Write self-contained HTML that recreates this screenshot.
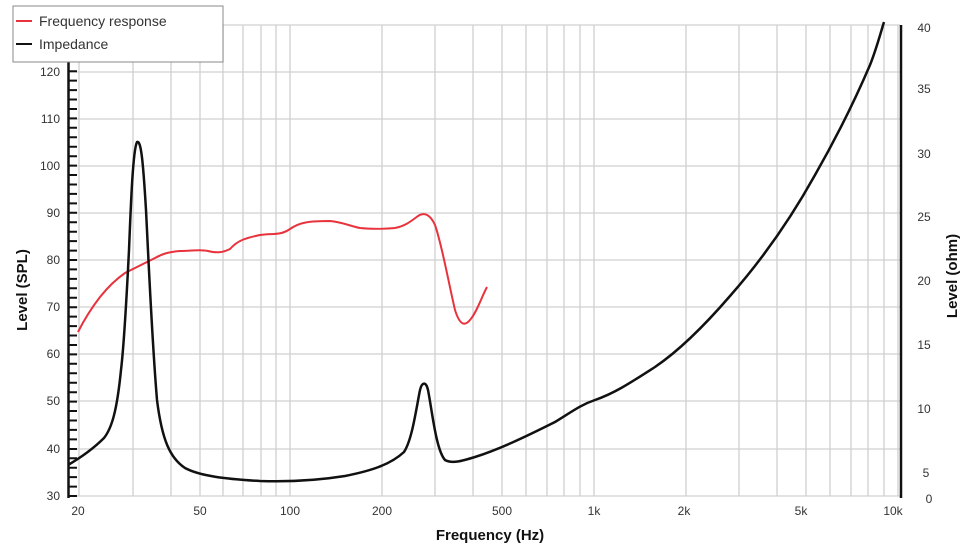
<!DOCTYPE html>
<html><head><meta charset="utf-8"><style>body{margin:0;background:#fff}svg{display:block;font-family:"Liberation Sans",sans-serif}</style></head><body>
<svg width="972" height="555" viewBox="0 0 972 555" xmlns="http://www.w3.org/2000/svg">
<g stroke="#d0d0d0" stroke-width="1.3" fill="none">
<line x1="70" y1="25" x2="900" y2="25"/><line x1="70" y1="72" x2="900" y2="72"/><line x1="70" y1="119" x2="900" y2="119"/><line x1="70" y1="166" x2="900" y2="166"/><line x1="70" y1="213" x2="900" y2="213"/><line x1="70" y1="260" x2="900" y2="260"/><line x1="70" y1="307" x2="900" y2="307"/><line x1="70" y1="354" x2="900" y2="354"/><line x1="70" y1="401" x2="900" y2="401"/><line x1="70" y1="449" x2="900" y2="449"/><line x1="70" y1="496" x2="900" y2="496"/>
<line x1="79" y1="25" x2="79" y2="496"/><line x1="133" y1="25" x2="133" y2="496"/><line x1="171" y1="25" x2="171" y2="496"/><line x1="200" y1="25" x2="200" y2="496"/><line x1="223" y1="25" x2="223" y2="496"/><line x1="243" y1="25" x2="243" y2="496"/><line x1="261" y1="25" x2="261" y2="496"/><line x1="276" y1="25" x2="276" y2="496"/><line x1="290" y1="25" x2="290" y2="496"/>
<line x1="382" y1="25" x2="382" y2="496"/><line x1="435" y1="25" x2="435" y2="496"/><line x1="473" y1="25" x2="473" y2="496"/><line x1="502" y1="25" x2="502" y2="496"/><line x1="526" y1="25" x2="526" y2="496"/><line x1="547" y1="25" x2="547" y2="496"/><line x1="564" y1="25" x2="564" y2="496"/><line x1="580" y1="25" x2="580" y2="496"/><line x1="594" y1="25" x2="594" y2="496"/>
<line x1="686" y1="25" x2="686" y2="496"/><line x1="739" y1="25" x2="739" y2="496"/><line x1="777" y1="25" x2="777" y2="496"/><line x1="806" y1="25" x2="806" y2="496"/><line x1="830" y1="25" x2="830" y2="496"/><line x1="851" y1="25" x2="851" y2="496"/><line x1="868" y1="25" x2="868" y2="496"/><line x1="884" y1="25" x2="884" y2="496"/><line x1="898" y1="25" x2="898" y2="496"/>
</g>
<line x1="68.5" y1="25" x2="68.5" y2="498" stroke="#111" stroke-width="2.5"/>
<line x1="901" y1="25" x2="901" y2="498" stroke="#111" stroke-width="2.5"/>
<g stroke="#111" stroke-width="2">
<path d="M68 496h9M68 486.6h9M68 477.1h9M68 467.7h9M68 458.2h9M68 449h9M68 439.4h9M68 429.9h9M68 420.5h9M68 411h9M68 401.6h9M68 392.2h9M68 382.7h9M68 373.3h9M68 363.8h9M68 354.4h9M68 345h9M68 335.5h9M68 326.1h9M68 316.6h9M68 307.2h9M68 297.8h9M68 288.3h9M68 278.9h9M68 269.4h9M68 260h9M68 250.6h9M68 241.1h9M68 231.7h9M68 222.2h9M68 212.8h9M68 203.4h9M68 193.9h9M68 184.5h9M68 175h9M68 165.6h9M68 156.2h9M68 146.7h9M68 137.3h9M68 127.8h9M68 118.4h9M68 109h9M68 99.5h9M68 90.1h9M68 80.6h9M68 71.2h9"/>
</g>
<g font-size="12" fill="#333" text-anchor="end">
<text x="60" y="76">120</text><text x="60" y="123">110</text><text x="60" y="170">100</text><text x="60" y="217">90</text><text x="60" y="264">80</text><text x="60" y="311">70</text><text x="60" y="358">60</text><text x="60" y="405">50</text><text x="60" y="453">40</text><text x="60" y="500">30</text>
</g>
<g font-size="12" fill="#333" text-anchor="middle">
<text x="78" y="515">20</text><text x="200" y="515">50</text><text x="290" y="515">100</text><text x="382" y="515">200</text><text x="502" y="515">500</text><text x="594" y="515">1k</text><text x="684" y="515">2k</text><text x="801" y="515">5k</text><text x="893" y="515">10k</text>
<text x="924" y="32">40</text><text x="924" y="93">35</text><text x="924" y="158">30</text><text x="924" y="221">25</text><text x="924" y="285">20</text><text x="924" y="349">15</text><text x="924" y="413">10</text><text x="926" y="477">5</text><text x="929" y="503">0</text>
</g>
<text x="490" y="540" font-size="15" font-weight="bold" fill="#111" text-anchor="middle">Frequency (Hz)</text>
<text transform="translate(27,290) rotate(-90)" font-size="15" font-weight="bold" fill="#111" text-anchor="middle">Level (SPL)</text>
<text transform="translate(957,276) rotate(-90)" font-size="15" font-weight="bold" fill="#111" text-anchor="middle">Level (ohm)</text>
<path fill="none" stroke="#e8333d" stroke-width="2" d="M78,332 C84,320 90,310 100,297 C108,287 115,280 125,273 C135,268 145,263 155,258 C162,254 168,252 180,251 C192,251 200,249 208,251 C216,253 222,253 230,249 C238,240 246,238 260,235 C272,233 280,236 290,229 C300,222 310,221 330,221 C342,222 350,226 360,228 C370,229 385,229 395,228 C405,226 410,222 418,216 C424,212 430,214 435,225 C442,245 448,280 455,310 C460,326 465,326 470,320 C477,312 482,296 487,287"/>
<path fill="none" stroke="#111" stroke-width="2.5" d="M68,465 C80,458 92,450 104,438 C112,428 117,410 121,370 C124,345 126,310 129,250 C131,200 133,150 137,142 C141,140 143,160 146,210 C149,270 152,340 157,400 C162,440 170,458 185,468 C200,476 225,479 260,481 C290,482 320,480 345,476 C370,471 390,465 404,452 C412,440 416,410 420,390 C422,382 426,381 428,390 C432,410 436,450 445,460 C452,464 462,461 475,457 C500,449 525,437 555,422 C570,413 580,405 595,400 C615,393 630,383 655,367 C680,350 705,325 730,296 C760,262 790,220 815,175 C835,140 855,100 870,65 C876,50 880,35 884,22"/>
<rect x="13" y="6" width="210" height="56" fill="#fff" stroke="#888" stroke-width="1"/>
<line x1="16" y1="21" x2="32" y2="21" stroke="#e8333d" stroke-width="2"/>
<line x1="16" y1="44" x2="32" y2="44" stroke="#111" stroke-width="2"/>
<text x="39" y="26" font-size="14" fill="#333">Frequency response</text>
<text x="39" y="49" font-size="14" fill="#333">Impedance</text>
</svg>
</body></html>
